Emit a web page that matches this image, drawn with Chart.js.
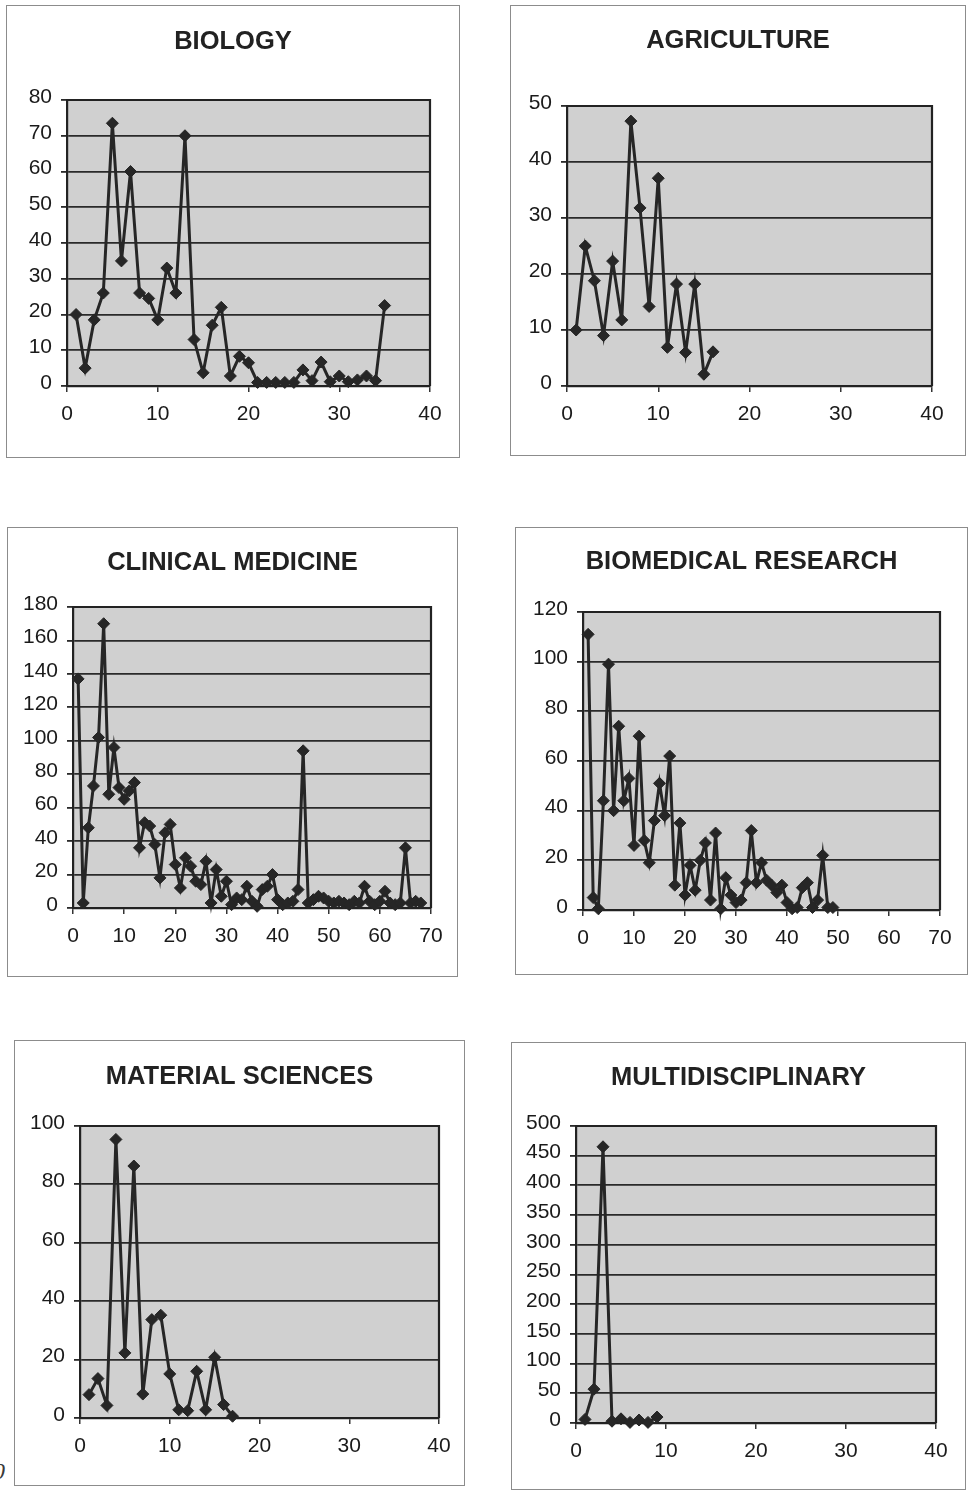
<!DOCTYPE html>
<html>
<head>
<meta charset="utf-8">
<script src="https://cdn.jsdelivr.net/npm/chart.js@4.4.1/dist/chart.umd.min.js"></script>
<style>
  html, body { margin: 0; padding: 0; background: #ffffff; }
  body { width: 969px; height: 1493px; position: relative; overflow: hidden;
         font-family: "Liberation Sans", Arial, sans-serif; }
  canvas { position: absolute; }
  .frame { position: absolute; box-sizing: border-box; border: 1px solid #8c8c8c; pointer-events: none; }
  .folio { position: absolute; left: -7px; top: 1458px; font: italic 24px "Liberation Serif", serif; color: #3a3a3a; }
</style>
</head>
<body>
<span class="folio">0</span>
<script>
// Panel titles, in reading order (left to right, top to bottom)
const panelTitles = ["BIOLOGY", "AGRICULTURE", "CLINICAL MEDICINE",
                     "BIOMEDICAL RESEARCH", "MATERIAL SCIENCES", "MULTIDISCIPLINARY"];

// Axis extents and tick steps per panel
const xAxisMax = [40, 40, 70, 70, 40, 40];
const xTickStep = [10, 10, 10, 10, 10, 10];
const yAxisMax = [80, 50, 180, 120, 100, 500];
const yTickStep = [10, 10, 20, 20, 20, 50];

// Series values; the n-th value is plotted at x = n
const biologyValues = [20, 5, 18.5, 26, 73.5, 35, 60, 26, 24.5, 18.5, 33, 26, 70, 13, 3.7,
  17, 22, 2.8, 8.3, 6.5, 1, 1, 1, 1, 1, 4.5, 1.5, 6.7, 1.2, 2.8, 1.2, 1.7, 2.8, 1.5, 22.5];

const agricultureValues = [10, 25, 18.8, 9, 22.3, 11.8, 47.3, 31.8, 14.2, 37.1, 6.9, 18.2,
  6, 18.2, 2.1, 6.1];

const clinicalValues = [137, 3, 48, 73, 102, 170, 68, 96, 72, 65, 70, 75, 36, 51, 49, 38,
  18, 45, 50, 26, 12, 30, 25, 16, 14, 28, 3, 23, 7, 16, 2, 6, 5, 13, 4, 1, 11, 13, 20, 5,
  2, 3, 4, 11, 94, 3, 5, 7, 6, 4, 3, 4, 3, 2, 4, 3, 13, 4, 2, 4, 10, 3, 2, 3, 36, 3, 4, 3];

const biomedicalValues = [111, 5, 0.5, 44, 99, 40, 74, 44, 53, 26, 70, 28, 19, 36, 51, 38,
  62, 10, 35, 6, 18, 8, 20, 27, 4, 31, 0.5, 13, 6, 3, 4, 11, 32, 11, 19, 12, 10, 7, 10, 3,
  0.5, 1, 9, 11, 1, 4, 22, 1, 1];

const materialValues = [8, 13.5, 4.3, 95.4, 22.3, 86.3, 8.2, 33.7, 35.2, 15.1, 2.8, 2.5,
  16, 2.8, 20.8, 4.6, 0.6];

const multidisciplinaryValues = [6, 57, 465, 3, 7, 1, 5, 1, 10];

const seriesList = [biologyValues, agricultureValues, clinicalValues,
                    biomedicalValues, materialValues, multidisciplinaryValues];

// Page geometry of each panel: outer frame and inner plot rectangle [left, top, right, bottom]
const frames = [
  [6, 5, 460, 458], [510, 5, 966, 456],
  [7, 527, 458, 977], [515, 527, 968, 975],
  [14, 1040, 465, 1486], [511, 1042, 966, 1490]
];
const plots = [
  [67, 100, 430, 386], [567, 106, 932, 386],
  [73, 607, 431, 908], [583, 612, 940, 910],
  [80, 1126, 439, 1418], [576, 1126, 936, 1423]
];
const titleCenters = [42, 41, 563, 562, 1077, 1078];

const FONT = '"Liberation Sans", Arial, Helvetica, sans-serif';
const INK = '#262626';

// Grey plot background, top/right plot border and the bold panel heading
const plotFrame = {
  id: 'plotFrame',
  beforeDraw(chart) {
    const { ctx, chartArea: a } = chart;
    ctx.save();
    ctx.fillStyle = '#d0d0d0';
    ctx.fillRect(a.left, a.top, a.right - a.left, a.bottom - a.top);
    ctx.restore();
  },
  beforeDatasetsDraw(chart) {
    const { ctx, chartArea: a } = chart;
    ctx.save();
    ctx.strokeStyle = '#222';
    ctx.lineWidth = 2.2;
    ctx.beginPath();
    ctx.moveTo(a.left, a.top);
    ctx.lineTo(a.right, a.top);
    ctx.lineTo(a.right, a.bottom);
    ctx.stroke();
    ctx.restore();
  },
  afterDraw(chart, args, opts) {
    const { ctx } = chart;
    ctx.save();
    ctx.fillStyle = '#222';
    ctx.font = 'bold 25.5px ' + FONT;
    ctx.textAlign = 'center';
    ctx.textBaseline = 'middle';
    ctx.fillText(opts.text, chart.width / 2, opts.y);
    ctx.restore();
  }
};

seriesList.forEach((values, i) => {
  const [fl, ft, fr, fb] = frames[i];
  const [pl, pt, pr, pb] = plots[i];
  const w = fr - fl, h = fb - ft;

  const canvas = document.createElement('canvas');
  canvas.width = w;
  canvas.height = h;
  canvas.style.left = fl + 'px';
  canvas.style.top = ft + 'px';
  canvas.style.width = w + 'px';
  canvas.style.height = h + 'px';
  document.body.appendChild(canvas);

  const frame = document.createElement('div');
  frame.className = 'frame';
  frame.style.left = fl + 'px';
  frame.style.top = ft + 'px';
  frame.style.width = w + 'px';
  frame.style.height = h + 'px';
  document.body.appendChild(frame);

  const points = values.map((v, k) => ({ x: k + 1, y: v }));

  new Chart(canvas, {
    type: 'line',
    data: {
      datasets: [{
        data: points,
        borderColor: INK,
        borderWidth: 3,
        backgroundColor: INK,
        pointStyle: 'rectRot',
        pointRadius: 6,
        pointBackgroundColor: INK,
        pointBorderColor: INK,
        pointBorderWidth: 1,
        tension: 0,
        fill: false,
        clip: false
      }]
    },
    options: {
      responsive: false,
      animation: false,
      devicePixelRatio: 1,
      events: [],
      layout: { padding: { left: 0, bottom: 0, top: pt - ft, right: fr - pr } },
      plugins: {
        legend: { display: false },
        tooltip: { enabled: false },
        title: { display: false },
        plotFrame: { text: panelTitles[i], y: titleCenters[i] - ft }
      },
      scales: {
        x: {
          type: 'linear',
          min: 0,
          max: xAxisMax[i],
          afterFit(scale) { scale.height = fb - pb; },
          ticks: { stepSize: xTickStep[i], color: '#1a1a1a', padding: 10,
                   font: { family: FONT, size: 21 }, maxRotation: 0 },
          grid: { drawOnChartArea: false, drawTicks: true, tickLength: 6,
                  color: '#333', lineWidth: 1.5 },
          border: { display: true, color: '#222', width: 2.2 }
        },
        y: {
          min: 0,
          max: yAxisMax[i],
          afterFit(scale) { scale.width = pl - fl; },
          ticks: { stepSize: yTickStep[i], color: '#1a1a1a', padding: 9,
                   labelOffset: -3, font: { family: FONT, size: 21 } },
          grid: { color: '#2a2a2a', lineWidth: 1.8, drawTicks: true, tickLength: 6 },
          border: { display: true, color: '#222', width: 2.2 }
        }
      }
    },
    plugins: [plotFrame]
  });
});
</script>
</body>
</html>
